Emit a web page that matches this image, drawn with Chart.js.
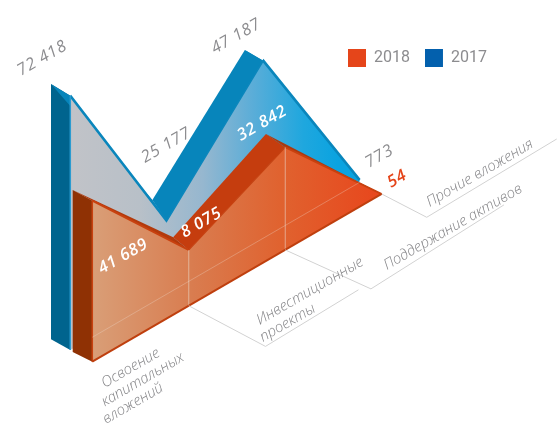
<!DOCTYPE html>
<html><head><meta charset="utf-8">
<style>html,body{margin:0;padding:0;background:#fff}canvas{display:block}</style>
<script src="https://cdn.jsdelivr.net/npm/chart.js@4/dist/chart.umd.js"></script>
</head><body><canvas id="c" width="557" height="424"></canvas>
<script>
// ---- data ----
const categories = ['Освоение капитальных вложений','Инвестиционные проекты','Поддержание активов','Прочие вложения'];
const series2018Printed = ['41 689','8 075','32 842','54'];
const series2017Printed = ['72 418','25 177','47 187','773'];
// heights of the drawn peaks as measured on the picture (the original is not to a linear scale)
const series2018Drawn = [161, 55.8, 102.6, 0];
const series2017Drawn = [254.3, 73.1, 177.5, 2.3];

// ---- projection and styling ----
const SKEW = 0.5795, X0 = 92.3;
const look = [
 { offset:[0,0], depth:[[-19.6,-10.7],[-15.6,-12.7],[-19.3,-13.3],[0,0]], wall:'#8f3104', wallEdge:'#c8410f',
   bands:['#b23a0c','#c53d0e','#a93a10'], base:'#bf3f0e' },
 { offset:[-22,-11.7], depth:[[-19.3,-11.7],[-14.4,-21],[-18.4,-10.7],[0,0]], wall:'#00648e', wallEdge:'#2a9bd0',
   bands:['#0785bb','#0785bb','#0785bb'], base:null }
];
const grad = (stops) => (c) => {
  const g = c.chart.ctx.createLinearGradient(68,0,382,0);
  stops.forEach(p => g.addColorStop(p[0],p[1]));
  return g;
};
const fill2018 = grad([[0.07,'#d99f78'],[0.4,'#d97c4f'],[0.68,'#e0622f'],[1,'#e8461c']]);
const fill2017 = grad([[0,'#c4c4c8'],[0.3,'#b8c0c8'],[0.5,'#96b7cf'],[0.66,'#5aadd8'],[0.82,'#1fa7de'],[0.93,'#0aa3e0']]);

const GREY='#8c8c8f', FONT='"Open Sans"';
const valueLabels = [
 { texts:series2018Printed, color:['#fff','#fff','#fff','#e5451a'], weight:'600', at:[[102,274],[184.5,238],[241,141],[391,188]] },
 { texts:series2017Printed, color:[GREY,GREY,GREY,GREY], weight:'400', at:[[21,76],[145,163],[215,54],[369,168]] }
];
const categoryLines = [
 { lines:['Освоение','капитальных','вложений'], at:[[104.7,388],[104.7,406.5],[106,424]] },
 { lines:['Инвестиционные','проекты'], at:[[259.7,325],[263,342]] },
 { lines:['Поддержание активов'], at:[[387,270]] },
 { lines:['Прочие вложения'], at:[[429.7,207]] }
];
const leaders = [ null, [[76.7,40.6],[93,-56.6]], [[85.7,39],[133,-84]], [[45,23.3],[130,-78.3]] ];

function screen(chart, dsIndex, i, atBase) {
  const xs = chart.scales.x, ys = chart.scales.y, o = look[dsIndex].offset;
  const px = xs.getPixelForValue(i);
  const py = ys.getPixelForValue(atBase ? 0 : chart.data.datasets[dsIndex].data[i].y);
  return [px + o[0], py - SKEW*(px - X0) + o[1]];
}
function poly(ctx, pts, fill) {
  ctx.beginPath(); pts.forEach((p,i)=> i?ctx.lineTo(p[0],p[1]):ctx.moveTo(p[0],p[1])); ctx.closePath();
  ctx.fillStyle = fill; ctx.fill();
}
const oblique = {
  id:'oblique',
  beforeDatasetDraw(chart, args) {
    const k = args.index, L = look[k], ctx = chart.ctx;
    const f = i => screen(chart,k,i,false), b = i => { const p=f(i); return [p[0]+L.depth[i][0],p[1]+L.depth[i][1]]; };
    const base0 = screen(chart,k,0,true);
    // side wall
    poly(ctx,[b(0),f(0),base0,[base0[0]+L.depth[0][0],base0[1]+L.depth[0][1]+1]],L.wall);
    // top bands
    for (let i=0;i<3;i++) poly(ctx,[f(i),f(i+1),b(i+1),b(i)],L.bands[i]);
    ctx.save();
    ctx.translate(L.offset[0],L.offset[1]);
    ctx.transform(1,-SKEW,0,1,0,SKEW*X0);
  },
  afterDatasetDraw(chart, args) {
    const k = args.index, L = look[k], ctx = chart.ctx;
    ctx.restore();
    const f0 = screen(chart,k,0,false), b0 = screen(chart,k,0,true);
    ctx.strokeStyle = L.wallEdge; ctx.lineWidth = 1.5;
    ctx.beginPath(); ctx.moveTo(f0[0],f0[1]); ctx.lineTo(b0[0],b0[1]); ctx.stroke();
    if (k === 0) {
      // faint inner guides seen through the front face
      ctx.lineWidth = 1; ctx.strokeStyle = 'rgba(235,225,215,.55)';
      [1,2].forEach(i => { const t=screen(chart,0,i,false), u=screen(chart,0,i,true);
        ctx.beginPath(); ctx.moveTo(t[0],t[1]); ctx.lineTo(u[0],u[1]); ctx.stroke(); });
      const a=screen(chart,1,0,true), z=screen(chart,1,3,true);
      ctx.strokeStyle='rgba(240,225,215,.3)';
      ctx.beginPath(); ctx.moveTo(f0[0],a[1]-SKEW*(f0[0]-a[0])); ctx.lineTo(z[0],z[1]); ctx.stroke();
      // base edge
      const e=screen(chart,0,3,true);
      ctx.strokeStyle=L.base; ctx.lineWidth=2;
      ctx.beginPath(); ctx.moveTo(b0[0],b0[1]); ctx.lineTo(e[0],e[1]); ctx.stroke();
    }
  },
  afterDatasetsDraw(chart) {
    const ctx = chart.ctx;
    // leader lines
    ctx.strokeStyle='#d2d2d2'; ctx.lineWidth=1;
    leaders.forEach((l,i)=>{ if(!l) return; const s=screen(chart,0,i,true);
      ctx.beginPath(); ctx.moveTo(s[0],s[1]);
      const m=[s[0]+l[0][0],s[1]+l[0][1]];
      ctx.lineTo(m[0],m[1]); ctx.lineTo(m[0]+l[1][0],m[1]+l[1][1]); ctx.stroke(); });
    const text=(t,p,font,color,sp)=>{ ctx.save(); ctx.translate(p[0],p[1]); ctx.rotate(-Math.PI/6);
      ctx.font=font; ctx.letterSpacing=sp; ctx.fillStyle=color; ctx.textAlign='left'; ctx.textBaseline='alphabetic'; ctx.fillText(t,0,0); ctx.restore(); };
    categoryLines.forEach(c=>c.lines.forEach((t,i)=>text(t,c.at[i],'italic 300 14.8px '+FONT,'#858588','0px')));
    valueLabels.forEach(v=>v.texts.forEach((t,i)=>text(t,v.at[i],'italic '+v.weight+' 16.5px '+FONT,v.color[i],'0.8px')));
  },
  afterLayout(chart) {
    // place the library's legend as one row in the clear top-right corner
    const lg = chart.legend; if(!lg) return;
    lg.isHorizontal = () => true;
    lg.fit();
    lg.left = 333; lg.top = 34; lg.right = 540; lg.bottom = 90;
  }
};
// let the projection wrap the area fill as well
Chart.unregister(Chart.Filler);
Chart.register(oblique, Chart.Filler);

new Chart(document.getElementById('c'), {
  type:'line',
  data:{ datasets:[
    { label:'2018', data:series2018Drawn.map((y,x)=>({x,y})), fill:'origin', backgroundColor:fill2018,
      borderColor:'#c8410f', borderWidth:1.5, pointRadius:0, tension:0, clip:false },
    { label:'2017', data:series2017Drawn.map((y,x)=>({x,y})), fill:'origin', backgroundColor:fill2017,
      borderColor:'#0a86bc', borderWidth:2, pointRadius:0, tension:0, clip:false }
  ]},
  options:{
    responsive:false, animation:false, devicePixelRatio:1,
    layout:{padding:0},
    scales:{
      x:{type:'linear',display:false,min:-92.3/96.47,max:(557-92.3)/96.47},
      y:{type:'linear',display:false,min:361.7-424,max:361.7}
    },
    plugins:{
      tooltip:{enabled:false},
      legend:{ position:'chartArea', align:'start',
        labels:{ boxWidth:18, boxHeight:18, padding:15, color:GREY, font:{family:'Roboto',size:16},
          generateLabels:()=>[
            {text:'2018',fillStyle:'#e5451a',strokeStyle:'#e5451a',fontColor:GREY,lineWidth:0,datasetIndex:0},
            {text:'2017',fillStyle:'#0360ad',strokeStyle:'#0360ad',fontColor:GREY,lineWidth:0,datasetIndex:1}
          ] } }
    }
  }
});
</script></body></html>
